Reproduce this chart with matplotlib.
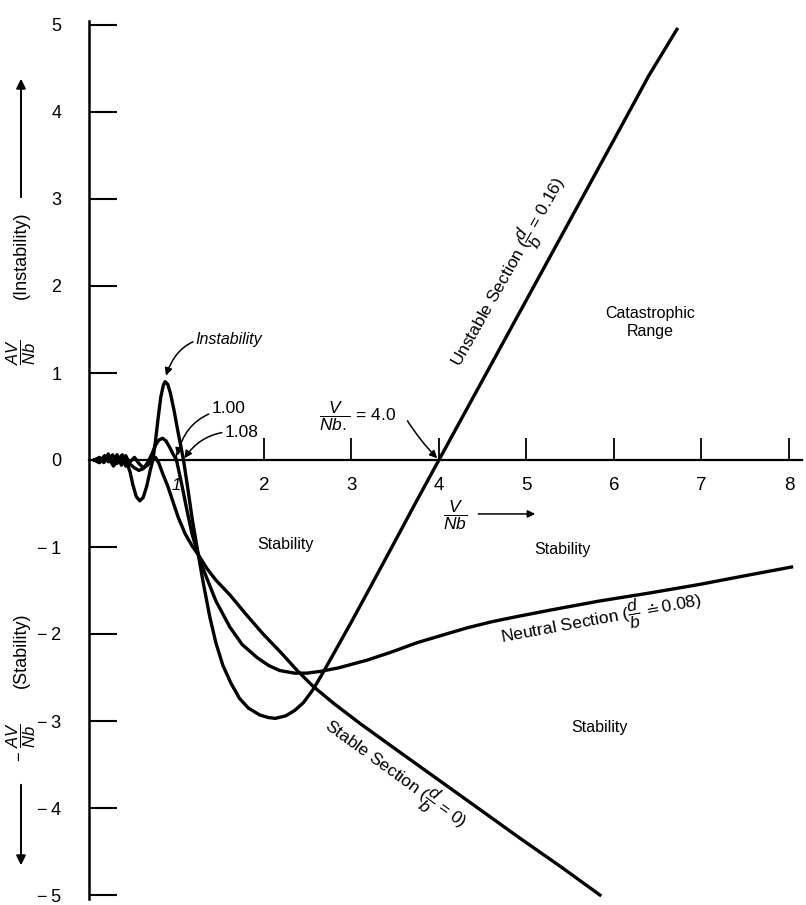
import matplotlib
matplotlib.use("Agg")
import matplotlib.pyplot as plt
from matplotlib.patches import FancyArrowPatch

plt.rcParams['font.family'] = ['Liberation Sans', 'DejaVu Sans']
plt.rcParams['mathtext.fontset'] = 'custom'
plt.rcParams['mathtext.rm'] = 'Liberation Sans'
plt.rcParams['mathtext.it'] = 'Liberation Sans:italic'
plt.rcParams['mathtext.bf'] = 'Liberation Sans:bold'

# ---- curves: V/Nb (x) against AV/Nb (y) ----
unstable_x = [0.06, 0.12, 0.18, 0.23, 0.28, 0.33, 0.38, 0.43, 0.47, 0.50, 0.54, 0.58, 0.62,
              0.66, 0.70, 0.73, 0.76, 0.79, 0.82, 0.85, 0.87, 0.90, 0.93, 0.97, 1.02, 1.08,
              1.13, 1.18, 1.25, 1.30, 1.38, 1.45, 1.53, 1.62, 1.72, 1.82, 1.95, 2.05, 2.13,
              2.25, 2.35, 2.45, 2.56, 2.66, 2.80, 3.00, 3.20, 3.50, 3.75, 4.00, 4.50, 5.00,
              5.50, 6.00, 6.40, 6.72]
unstable_y = [0.00, -0.03, 0.05, 0.01, -0.07, 0.00, 0.06, -0.02, -0.14, -0.28, -0.42, -0.47, -0.43,
              -0.30, -0.12, 0.00, 0.22, 0.48, 0.72, 0.86, 0.90, 0.87, 0.77, 0.58, 0.31, 0.00,
              -0.33, -0.68, -1.09, -1.38, -1.80, -2.10, -2.36, -2.56, -2.74, -2.85, -2.93, -2.96, -2.97,
              -2.94, -2.88, -2.79, -2.64, -2.47, -2.22, -1.86, -1.49, -0.93, -0.46, 0.00, 0.92, 1.84,
              2.76, 3.68, 4.42, 4.95]

neutral_x = [0.06, 0.12, 0.17, 0.22, 0.27, 0.32, 0.37, 0.42, 0.47, 0.52, 0.57, 0.62, 0.67,
             0.72, 0.76, 0.80, 0.84, 0.88, 0.92, 0.96, 1.00, 1.06, 1.12, 1.18, 1.25, 1.30,
             1.45, 1.61, 1.75, 1.92, 2.05, 2.18, 2.35, 2.49, 2.64, 2.85, 3.18, 3.45, 3.75,
             4.05, 4.32, 4.60, 4.89, 5.30, 5.84, 6.40, 6.98, 7.50, 8.03]
neutral_y = [0.00, 0.03, -0.03, 0.07, -0.04, 0.06, -0.06, 0.05, -0.05, -0.09, -0.12, -0.10, -0.03,
             0.07, 0.17, 0.23, 0.25, 0.22, 0.15, 0.07, 0.00, -0.28, -0.58, -0.86, -1.09, -1.24,
             -1.62, -1.92, -2.12, -2.27, -2.36, -2.42, -2.45, -2.45, -2.43, -2.39, -2.30, -2.21, -2.10,
             -2.01, -1.93, -1.86, -1.80, -1.72, -1.62, -1.53, -1.43, -1.33, -1.23]

stable_x = [0.06, 0.12, 0.17, 0.22, 0.27, 0.32, 0.37, 0.42, 0.47, 0.52, 0.57, 0.62, 0.67,
            0.72, 0.76, 0.80, 0.84, 0.90, 0.96, 1.02, 1.10, 1.18, 1.25, 1.35, 1.45, 1.61,
            1.80, 1.99, 2.20, 2.38, 2.56, 2.80, 3.10, 3.50, 4.00, 4.50, 4.93, 5.40, 5.84]
stable_y = [0.00, -0.03, 0.04, -0.02, 0.06, -0.04, 0.04, -0.07, -0.02, 0.03, -0.04, -0.09, -0.06,
            0.01, 0.03, -0.04, -0.15, -0.30, -0.48, -0.66, -0.85, -0.99, -1.09, -1.25, -1.38, -1.55,
            -1.78, -2.00, -2.22, -2.42, -2.60, -2.80, -3.03, -3.32, -3.68, -4.04, -4.35, -4.68, -5.00]

x_ticks = [2, 3, 4, 5, 6, 7, 8]
y_ticks = [-5, -4, -3, -2, -1, 0, 1, 2, 3, 4, 5]
y_tick_labels = ['\u2212\u20095', '\u2212\u20094', '\u2212\u20093', '\u2212\u20092', '\u2212\u20091',
                 '0', '1', '2', '3', '4', '5']

W, H = 806, 905
fig = plt.figure(figsize=(W / 100, H / 100), dpi=100)
ax = fig.add_axes([89 / W, 5.65 / H, 713 / W, 878.7 / H])
ax.set_xlim(0, 8.15)
ax.set_ylim(-5.05, 5.05)

for s in ('top', 'right'):
    ax.spines[s].set_visible(False)
ax.spines['left'].set_linewidth(1.8)
ax.spines['bottom'].set_position(('data', 0))
ax.spines['bottom'].set_linewidth(1.6)

ax.set_yticks(y_ticks, labels=y_tick_labels)
ax.set_xticks(x_ticks, labels=[str(t) for t in x_ticks])
ax.set_xticks([1], labels=['1'], minor=True)
ax.tick_params(axis='y', direction='in', length=20, width=1.5, labelsize=13, pad=20)
ax.tick_params(axis='x', which='major', direction='in', length=16, width=1.3, labelsize=13.5, pad=12)
ax.tick_params(axis='x', which='minor', direction='in', length=6, width=1.0, labelsize=12, pad=13)
for lab in ax.get_xticklabels(minor=True):
    lab.set_fontstyle('italic')

lw = 2.4
ax.plot(unstable_x, unstable_y, color='black', lw=lw, solid_joinstyle='round')
ax.plot(neutral_x, neutral_y, color='black', lw=lw, solid_joinstyle='round')
ax.plot(stable_x, stable_y, color='black', lw=lw, solid_joinstyle='round')

fs = 11.5
sfs = 12.5
ax.text(4.80, 2.16, r"Unstable Section ($\dfrac{d}{b}$ = 0.16)", rotation=60.6,
        rotation_mode='anchor', ha='center', va='center', fontsize=sfs)
ax.text(5.86, -1.84, r"Neutral Section ($\dfrac{d}{b}$ $\doteq$0.08)", rotation=10.5,
        rotation_mode='anchor', ha='center', va='center', fontsize=sfs)
ax.text(3.50, -3.62, r"Stable Section ($\dfrac{d}{b}$ = 0)", rotation=-36,
        rotation_mode='anchor', ha='center', va='center', fontsize=sfs)

ax.text(6.41, 1.58, "Catastrophic\nRange", ha='center', va='center', fontsize=fs,
        linespacing=1.3)
ax.text(2.24, -0.97, "Stability", ha='center', va='center', fontsize=fs)
ax.text(5.41, -1.03, "Stability", ha='center', va='center', fontsize=fs)
ax.text(5.84, -3.07, "Stability", ha='center', va='center', fontsize=fs)

arrow = dict(arrowstyle='-|>', color='black', lw=1.1, mutation_scale=11,
             shrinkA=0, shrinkB=0)

ax.annotate("Instability", xy=(0.88, 0.97), xytext=(1.22, 1.38), fontsize=fs,
            fontstyle='italic', ha='left', va='center',
            arrowprops=dict(arrow, connectionstyle='arc3,rad=0.45'))
ax.annotate("1.00", xy=(1.01, 0.05), xytext=(1.40, 0.59), fontsize=fs + 1,
            ha='left', va='center',
            arrowprops=dict(arrow, connectionstyle='arc3,rad=0.35'))
ax.annotate("1.08", xy=(1.09, 0.02), xytext=(1.55, 0.32), fontsize=fs + 1,
            ha='left', va='center',
            arrowprops=dict(arrow, connectionstyle='arc3,rad=0.3'))
ax.text(3.07, 0.50, r"$\dfrac{V}{Nb.}$ = 4.0", ha='center', va='center', fontsize=fs + 1)
ax.annotate("", xy=(3.98, 0.02), xytext=(3.64, 0.45),
            arrowprops=dict(arrow, connectionstyle='arc3,rad=0.05'))

ax.text(4.18, -0.64, r"$\dfrac{V}{Nb}$", ha='center', va='center', fontsize=fs + 1)
ax.annotate("", xy=(5.10, -0.62), xytext=(4.45, -0.62), arrowprops=arrow)

# vertical axis captions, placed in figure pixels
cfs = 13
cx = 21
fig.text(cx / W, 1 - 352 / H, r"$\dfrac{AV}{Nb}$", rotation=90, ha='center', va='center',
         fontsize=cfs - 1)
fig.text(cx / W, 1 - 255 / H, "(Instability)", rotation=90, ha='center', va='center',
         fontsize=cfs)
fig.add_artist(FancyArrowPatch(
    (cx, H - 200), (cx, H - 76), transform=None, arrowstyle='-|>', color='black',
    lw=1.4, mutation_scale=14))

fig.text(cx / W, 1 - 650 / H, "(Stability)", rotation=90, ha='center', va='center',
         fontsize=cfs)
fig.text(cx / W, 1 - 742 / H, r"$-\ \dfrac{AV}{Nb}$", rotation=90, ha='center', va='center',
         fontsize=cfs - 1)
fig.add_artist(FancyArrowPatch(
    (cx, H - 782), (cx, H - 868), transform=None, arrowstyle='-|>', color='black',
    lw=1.4, mutation_scale=14))

fig.savefig("out.png", dpi=100)
